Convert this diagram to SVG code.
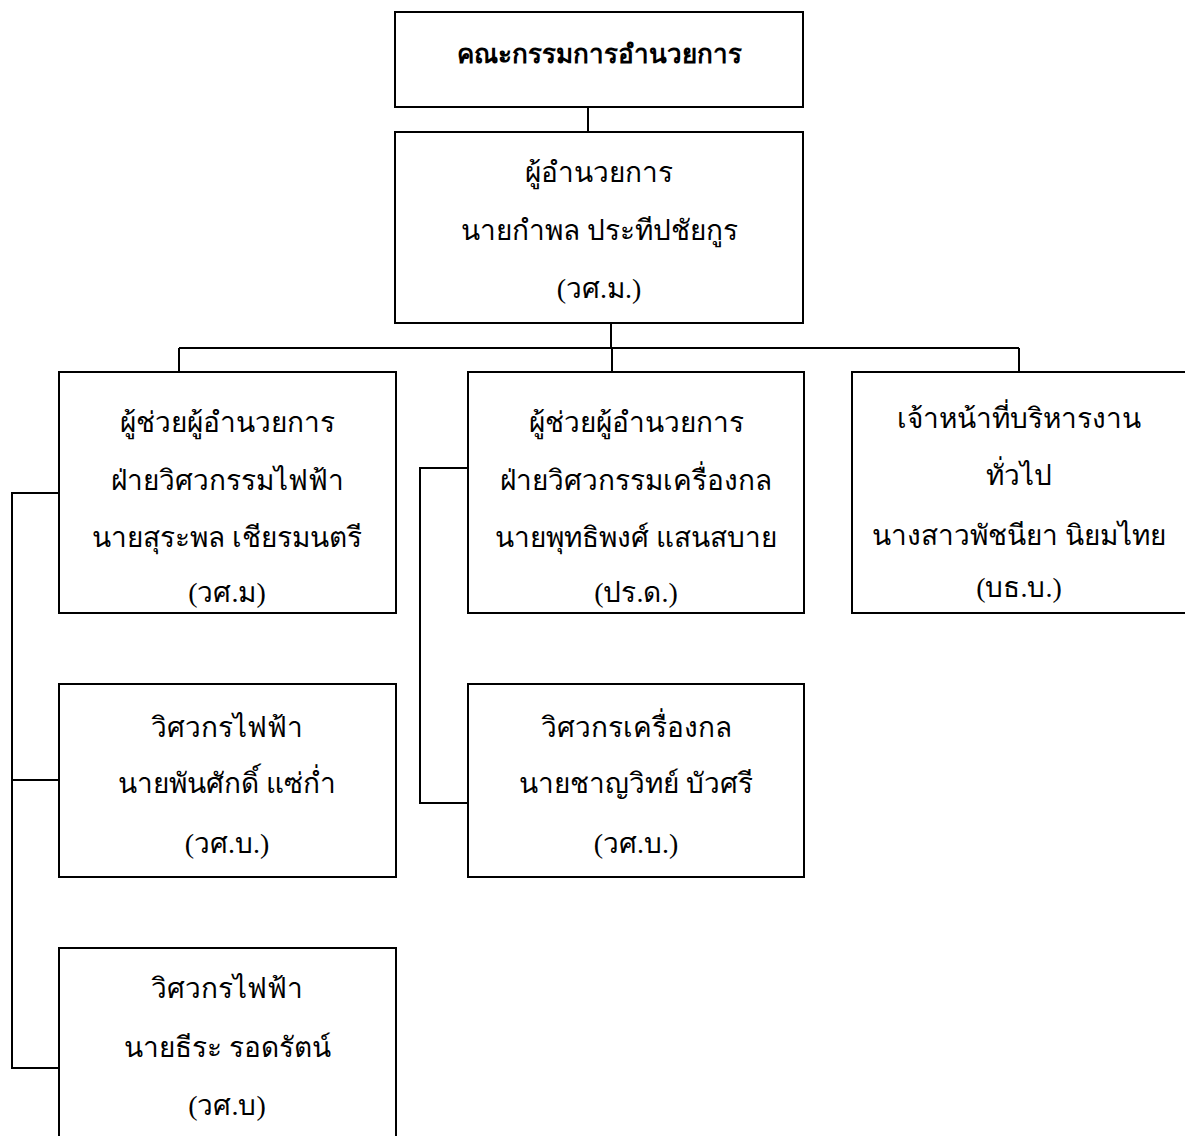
<svg xmlns="http://www.w3.org/2000/svg" width="1185" height="1136" viewBox="0 0 1185 1136">
<style>
.box{fill:#fff;stroke:#000;stroke-width:2}
.ln{fill:none;stroke:#000;stroke-width:2}
text{font-family:"Liberation Serif","DejaVu Serif",serif;font-size:28px;text-anchor:middle;fill:#000}
.b{font-weight:bold;font-size:26px}
</style>
<rect width="1185" height="1136" fill="#fff"/>
<g id="connectors">
<path class="ln" d="M588 107V132"/>
<path class="ln" d="M611 323V348M179 348H1019M179 348V372M612 348V372M1019 348V372"/>
<path class="ln" d="M59 493H12V1068H59M12 780H59"/>
<path class="ln" d="M468 468H420V803H468"/>
</g>
<g id="board"><rect class="box" x="395" y="12" width="408" height="95"/><text class="b" x="599" y="63">คณะกรรมการอำนวยการ</text></g>
<g id="director"><rect class="box" x="395" y="132" width="408" height="191"/>
<text x="599" y="182">ผู้อำนวยการ</text><text x="599" y="240">นายกำพล ประทีปชัยกูร</text><text x="599" y="298">(วศ.ม.)</text></g>
<g id="asst-elec"><rect class="box" x="59" y="372" width="337" height="241"/>
<text x="227" y="432">ผู้ช่วยผู้อำนวยการ</text><text x="227" y="490">ฝ่ายวิศวกรรมไฟฟ้า</text><text x="227" y="547">นายสุระพล เชียรมนตรี</text><text x="227" y="602">(วศ.ม)</text></g>
<g id="asst-mech"><rect class="box" x="468" y="372" width="336" height="241"/>
<text x="636" y="432">ผู้ช่วยผู้อำนวยการ</text><text x="636" y="490">ฝ่ายวิศวกรรมเครื่องกล</text><text x="636" y="547">นายพุทธิพงศ์ แสนสบาย</text><text x="636" y="602">(ปร.ด.)</text></g>
<g id="admin"><rect class="box" x="852" y="372" width="345" height="241"/>
<text x="1019" y="428">เจ้าหน้าที่บริหารงาน</text><text x="1019" y="485">ทั่วไป</text><text x="1019" y="545">นางสาวพัชนียา นิยมไทย</text><text x="1019" y="597">(บธ.บ.)</text></g>
<g id="elec1"><rect class="box" x="59" y="684" width="337" height="193"/>
<text x="227" y="737">วิศวกรไฟฟ้า</text><text x="227" y="793">นายพันศักดิ์ แซ่ก่ำ</text><text x="227" y="853">(วศ.บ.)</text></g>
<g id="mech1"><rect class="box" x="468" y="684" width="336" height="193"/>
<text x="636" y="737">วิศวกรเครื่องกล</text><text x="636" y="793">นายชาญวิทย์ บัวศรี</text><text x="636" y="853">(วศ.บ.)</text></g>
<g id="elec2"><rect class="box" x="59" y="948" width="337" height="200"/>
<text x="227" y="998">วิศวกรไฟฟ้า</text><text x="227" y="1057">นายธีระ รอดรัตน์</text><text x="227" y="1115">(วศ.บ)</text></g>
</svg>
